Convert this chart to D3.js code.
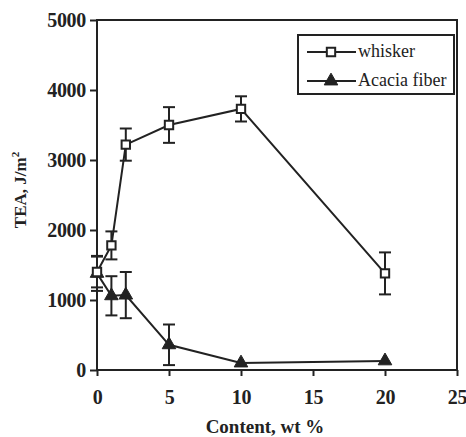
<!DOCTYPE html>
<html>
<head>
<meta charset="utf-8">
<script src="https://cdn.jsdelivr.net/npm/d3@7"></script>
<style>
  body { margin: 0; background: #fff; }
  text { font-family: "Liberation Serif", "Times New Roman", serif; fill: #222; }
</style>
</head>
<body>
<div class="canvas"></div>
<script>
// data
const content = [0, 1, 2, 5, 10, 20];
const whisker = [1400, 1780, 3220, 3500, 3730, 1380];
const whiskerErr = [220, 200, 230, 255, 180, 300];
const acacia = [1380, 1060, 1070, 360, 100, 130];
const acaciaErr = [250, 280, 330, 290, 0, 0];
const xTicks = [0, 5, 10, 15, 20, 25];
const yTicks = [0, 1000, 2000, 3000, 4000, 5000];

const dims = {width: 466, height: 437};
const m = {left: 97, right: 9, top: 20, bottom: 67};
const ink = '#222';

const svg = d3.select('.canvas')
  .append('svg')
    .attr('width', dims.width)
    .attr('height', dims.height);

const x = d3.scaleLinear().domain([0, 25]).range([m.left, dims.width - m.right]);
const y = d3.scaleLinear().domain([0, 5000]).range([dims.height - m.bottom, m.top]);

// frame
svg.append('rect')
  .attr('x', x(0)).attr('y', y(5000))
  .attr('width', x(25) - x(0)).attr('height', y(0) - y(5000))
  .attr('fill', 'none').attr('stroke', ink).attr('stroke-width', 2);

const xAxis = svg.append('g')
  .attr('transform', `translate(0,${y(0)})`)
  .call(d3.axisBottom(x).tickValues(xTicks).tickFormat(d3.format('d')).tickSize(6).tickPadding(14));

const yAxis = svg.append('g')
  .attr('transform', `translate(${x(0)},0)`)
  .call(d3.axisLeft(y).tickValues(yTicks).tickFormat(d3.format('d')).tickSize(7).tickPadding(4));

[xAxis, yAxis].forEach(a => {
  a.select('.domain').remove();
  a.selectAll('line').attr('stroke', ink).attr('stroke-width', 2);
  a.selectAll('text')
    .attr('fill', ink)
    .style('font-family', '"Liberation Serif", serif')
    .style('font-size', '20px')
    .style('font-weight', 'bold')
    .style('letter-spacing', '-0.3px');
});

// axis titles
svg.append('text')
  .attr('x', 265).attr('y', 433)
  .attr('text-anchor', 'middle')
  .style('font-size', '19px').style('font-weight', 'bold')
  .text('Content, wt %');

const yt = svg.append('text')
  .attr('transform', `translate(26,${y(2500) - 5}) rotate(-90)`)
  .attr('text-anchor', 'middle')
  .style('font-size', '17px').style('font-weight', 'bold');
yt.append('tspan').text('TEA, J/m');
yt.append('tspan').attr('dy', -7).style('font-size', '11px').text('2');

const line = d3.line().x(d => x(d[0])).y(d => y(d[1]));

const drawSeries = (vals, errs, marker) => {
  const pts = content.map((c, i) => [c, vals[i], errs[i]]);
  const g = svg.append('g');

  g.append('path')
    .attr('d', line(pts))
    .attr('fill', 'none').attr('stroke', ink).attr('stroke-width', 2);

  const eb = g.selectAll('g.err')
    .data(pts.filter(d => d[2] > 0))
    .enter().append('g').attr('class', 'err');
  eb.append('line')
    .attr('x1', d => x(d[0])).attr('x2', d => x(d[0]))
    .attr('y1', d => y(d[1] - d[2])).attr('y2', d => y(d[1] + d[2]));
  eb.append('line')
    .attr('x1', d => x(d[0]) - 6).attr('x2', d => x(d[0]) + 6)
    .attr('y1', d => y(d[1] + d[2])).attr('y2', d => y(d[1] + d[2]));
  eb.append('line')
    .attr('x1', d => x(d[0]) - 6).attr('x2', d => x(d[0]) + 6)
    .attr('y1', d => y(d[1] - d[2])).attr('y2', d => y(d[1] - d[2]));
  eb.selectAll('line').attr('stroke', ink).attr('stroke-width', 2);

  g.selectAll('path.pt')
    .data(pts)
    .enter().append('path')
    .attr('class', 'pt')
    .attr('transform', d => `translate(${x(d[0])},${y(d[1])})`)
    .call(marker);
};

const squareMark = sel => sel
  .attr('d', d3.symbol(d3.symbolSquare, 70))
  .attr('fill', '#fff').attr('stroke', ink).attr('stroke-width', 2);
const triMark = sel => sel
  .attr('d', d3.symbol(d3.symbolTriangle, 80))
  .attr('fill', ink).attr('stroke', ink).attr('stroke-width', 1);

drawSeries(acacia, acaciaErr, triMark);
drawSeries(whisker, whiskerErr, squareMark);

// legend
const leg = svg.append('g');
leg.append('rect')
  .attr('x', 298).attr('y', 35).attr('width', 156).attr('height', 59)
  .attr('fill', '#fff').attr('stroke', ink).attr('stroke-width', 2);

const legItems = [
  {name: 'whisker', mark: squareMark, yy: 52},
  {name: 'Acacia fiber', mark: triMark, yy: 81}
];
legItems.forEach(it => {
  leg.append('line')
    .attr('x1', 307).attr('x2', 356).attr('y1', it.yy).attr('y2', it.yy)
    .attr('stroke', ink).attr('stroke-width', 2);
  leg.append('path')
    .attr('transform', `translate(331,${it.yy})`)
    .call(it.mark);
  leg.append('text')
    .attr('x', 358).attr('y', it.yy + 5)
    .style('font-size', '18px')
    .text(it.name);
});
</script>
</body>
</html>
